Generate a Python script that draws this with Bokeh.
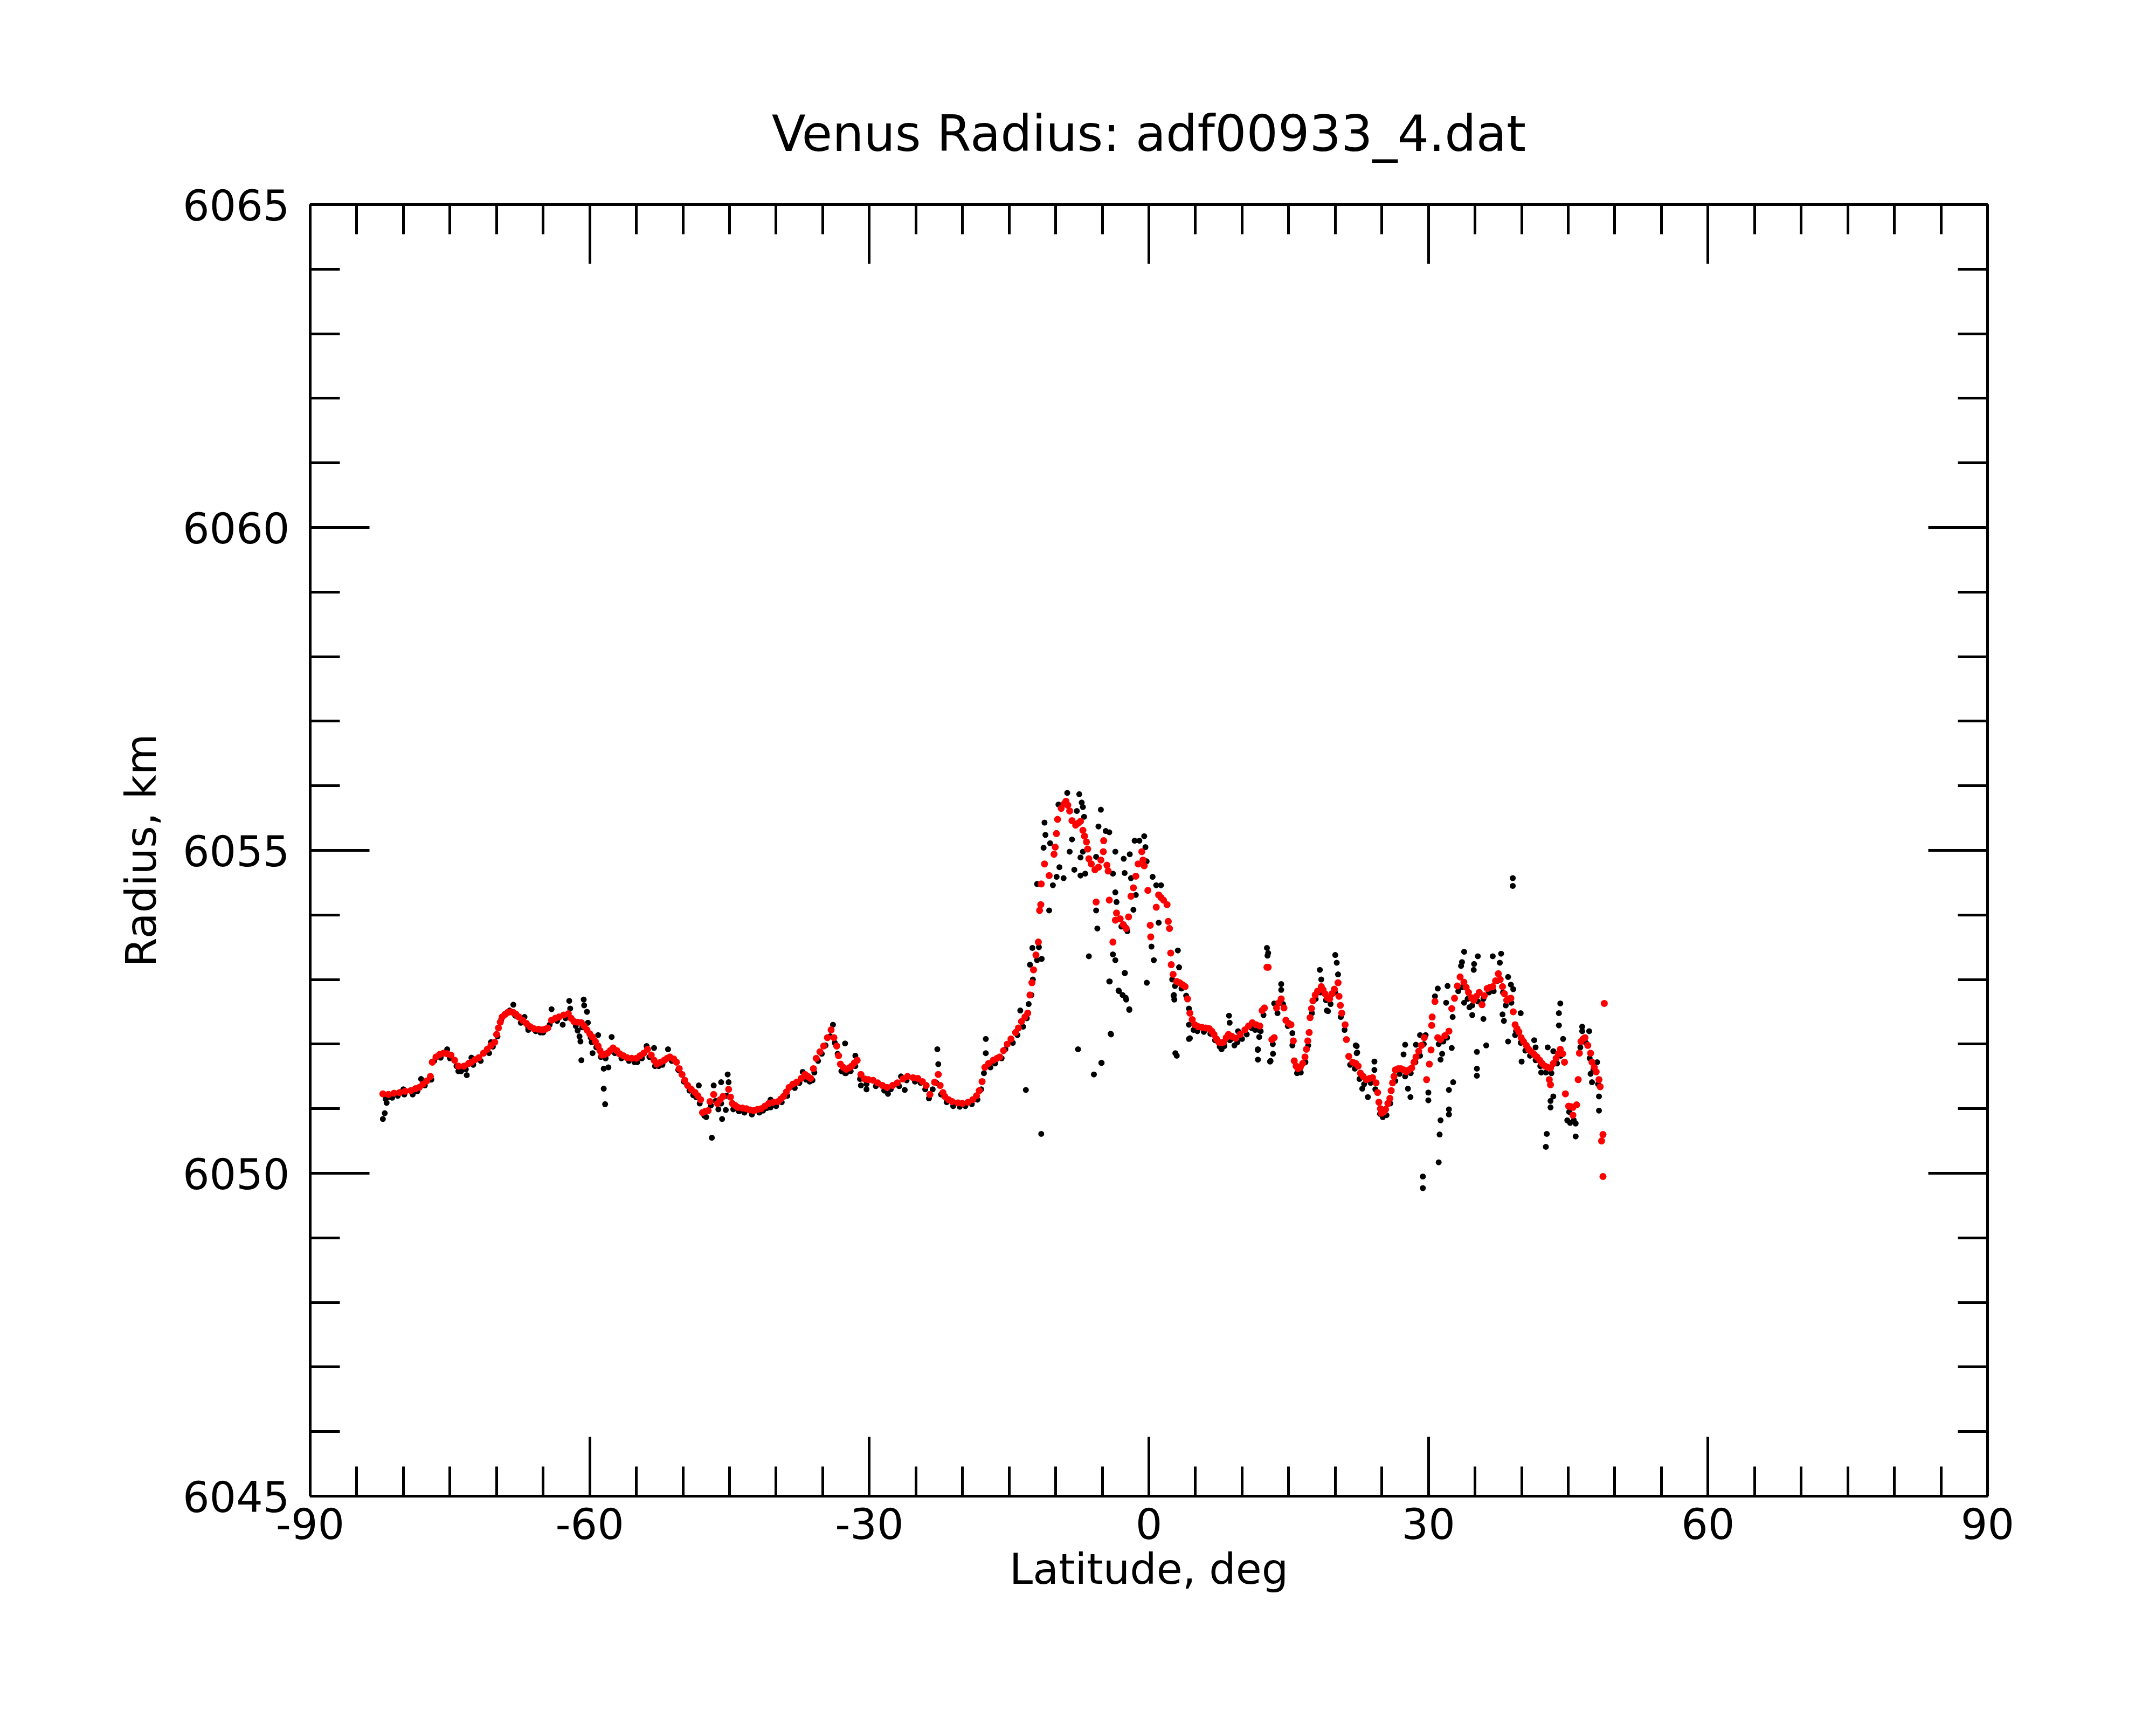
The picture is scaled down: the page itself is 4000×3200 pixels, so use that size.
from bokeh.plotting import figure
from bokeh.models import Range1d, LinearAxis, FixedTicker, CustomJSTickFormatter
from bokeh.embed import file_html
from bokeh.resources import INLINE

TITLE = "Venus Radius: adf00933_4.dat"
X_LABEL = "Latitude, deg"
Y_LABEL = "Radius, km"
x_major = [-90, -60, -30, 0, 30, 60, 90]
x_minor = list(range(-90, 91, 5))
y_major = [6045, 6050, 6055, 6060, 6065]
y_minor = list(range(6045, 6066))

# red series (latitude, radius km)
red_south = [
    (-82.2, 6051.23), (-81.6, 6051.22), (-81.0, 6051.24), (-80.4, 6051.25), (-79.8, 6051.27),
    (-79.2, 6051.28), (-78.7, 6051.31), (-78.3, 6051.33), (-77.9, 6051.38), (-77.5, 6051.43),
    (-77.1, 6051.50), (-76.9, 6051.72), (-76.5, 6051.80), (-76.1, 6051.84), (-75.7, 6051.86),
    (-75.3, 6051.85), (-74.9, 6051.83), (-74.5, 6051.75), (-74.1, 6051.66), (-73.5, 6051.66),
    (-73.0, 6051.70), (-72.7, 6051.72), (-72.3, 6051.76), (-71.9, 6051.79), (-71.4, 6051.86),
    (-71.0, 6051.92), (-70.6, 6051.98), (-70.2, 6052.03), (-70.0, 6052.15), (-69.8, 6052.25),
    (-69.6, 6052.34), (-69.4, 6052.42), (-69.1, 6052.46), (-68.8, 6052.49), (-68.5, 6052.50),
    (-68.2, 6052.49), (-67.9, 6052.46), (-67.6, 6052.42), (-67.2, 6052.37), (-66.8, 6052.32),
    (-66.4, 6052.27), (-66.0, 6052.24), (-65.5, 6052.23), (-65.1, 6052.22), (-64.8, 6052.23),
    (-64.5, 6052.25), (-64.1, 6052.37), (-63.7, 6052.40), (-63.3, 6052.42), (-62.8, 6052.45),
    (-62.3, 6052.47), (-62.0, 6052.40), (-61.7, 6052.35), (-61.3, 6052.34), (-60.9, 6052.33),
    (-60.6, 6052.28), (-60.3, 6052.22), (-60.0, 6052.16), (-59.7, 6052.11), (-59.4, 6052.04),
    (-59.1, 6051.97), (-58.9, 6051.90), (-58.7, 6051.83), (-58.4, 6051.84), (-58.1, 6051.86),
    (-57.8, 6051.90), (-57.5, 6051.94), (-57.1, 6051.90), (-56.8, 6051.85), (-56.4, 6051.82),
    (-56.0, 6051.79), (-55.5, 6051.78), (-55.0, 6051.78), (-54.6, 6051.82), (-54.2, 6051.86),
    (-53.8, 6051.92), (-53.4, 6051.83), (-53.1, 6051.75), (-52.8, 6051.69), (-52.4, 6051.72),
    (-52.0, 6051.75), (-51.7, 6051.78), (-51.4, 6051.80), (-51.0, 6051.77), (-50.7, 6051.72),
    (-50.4, 6051.62), (-50.1, 6051.53), (-49.8, 6051.44), (-49.5, 6051.36), (-49.1, 6051.30),
    (-48.7, 6051.25), (-48.4, 6051.20), (-48.1, 6051.14), (-47.9, 6050.94), (-47.6, 6050.96),
    (-47.3, 6050.97), (-47.1, 6051.11), (-46.7, 6051.22), (-46.3, 6051.08), (-46.0, 6051.14),
    (-45.7, 6051.19), (-45.1, 6051.30), (-44.9, 6051.18), (-44.7, 6051.08), (-44.4, 6051.05),
    (-44.1, 6051.02), (-43.6, 6051.01), (-43.2, 6051.00), (-42.8, 6050.98), (-42.4, 6050.97),
    (-42.0, 6050.99), (-41.6, 6051.00), (-41.2, 6051.04), (-40.8, 6051.08), (-40.3, 6051.10),
    (-39.8, 6051.11), (-39.5, 6051.15), (-39.2, 6051.19), (-38.9, 6051.26), (-38.6, 6051.33),
    (-38.2, 6051.38), (-37.8, 6051.41), (-37.3, 6051.47), (-36.9, 6051.53), (-36.6, 6051.50),
    (-36.3, 6051.47), (-36.0, 6051.62), (-35.7, 6051.78), (-35.3, 6051.88), (-34.9, 6051.97),
    (-34.5, 6052.10), (-34.1, 6052.22), (-33.8, 6052.10), (-33.5, 6051.97), (-33.3, 6051.82),
    (-33.1, 6051.69), (-32.8, 6051.64), (-32.5, 6051.61), (-32.2, 6051.63), (-31.9, 6051.66),
    (-31.6, 6051.71), (-31.3, 6051.75), (-30.9, 6051.53), (-30.5, 6051.46), (-30.1, 6051.45),
    (-29.6, 6051.44), (-29.1, 6051.40), (-28.6, 6051.36), (-28.1, 6051.33), (-27.5, 6051.36),
    (-27.0, 6051.40), (-26.4, 6051.46), (-25.9, 6051.50), (-25.3, 6051.48), (-24.8, 6051.47),
    (-24.3, 6051.42), (-23.9, 6051.36), (-23.5, 6051.22), (-23.0, 6051.41), (-22.6, 6051.53),
    (-22.4, 6051.36), (-22.1, 6051.25), (-21.9, 6051.19), (-21.5, 6051.14), (-21.1, 6051.11),
    (-20.5, 6051.09), (-20.0, 6051.08), (-19.4, 6051.10), (-18.9, 6051.14), (-18.5, 6051.20),
    (-18.2, 6051.28), (-17.9, 6051.42), (-17.6, 6051.64), (-17.2, 6051.70), (-16.7, 6051.75),
    (-16.3, 6051.78), (-16.0, 6051.80), (-15.6, 6051.90), (-15.2, 6052.00), (-14.8, 6052.08),
    (-14.3, 6052.18), (-14.0, 6052.25), (-13.67, 6052.35), (-13.3, 6052.42), (-13.0, 6052.48),
]
red_peak = [
    (-12.76, 6052.76), (-12.55, 6052.95), (-12.38, 6053.15), (-12.12, 6053.38), (-11.86, 6053.58),
    (-11.73, 6054.07), (-11.6, 6054.16), (-11.55, 6054.48), (-11.2, 6054.79), (-10.7, 6054.61),
    (-10.18, 6054.94), (-10.05, 6055.05), (-9.92, 6055.26), (-9.8, 6055.48), (-9.41, 6055.65),
    (-9.1, 6055.72), (-8.9, 6055.76), (-8.7, 6055.70), (-8.5, 6055.61), (-8.25, 6055.46),
    (-7.86, 6055.39), (-7.6, 6055.42), (-7.34, 6055.45), (-7.08, 6055.31), (-6.9, 6055.22),
    (-6.7, 6055.13), (-6.57, 6055.02), (-6.44, 6054.87), (-6.18, 6054.79), (-5.79, 6054.70),
    (-5.66, 6054.20), (-5.41, 6054.74), (-5.15, 6054.85), (-4.89, 6054.98), (-4.85, 6055.15),
    (-4.5, 6054.77), (-4.37, 6054.68), (-4.25, 6054.23), (-3.86, 6053.58), (-3.6, 6053.92),
    (-3.47, 6054.03), (-3.08, 6053.94), (-2.75, 6053.85), (-2.44, 6053.79), (-2.18, 6053.97),
    (-1.92, 6054.29), (-1.66, 6054.42), (-1.4, 6054.60), (-1.15, 6054.79), (-0.76, 6054.98),
    (-0.63, 6054.85), (-0.5, 6054.76), (-0.11, 6054.38), (0.15, 6053.84), (0.2, 6053.66),
    (0.79, 6054.12), (1.05, 6054.31), (1.3, 6054.27), (1.57, 6054.23), (1.95, 6054.16),
    (2.08, 6053.90), (2.21, 6053.79), (2.34, 6053.41), (2.4, 6053.23), (2.6, 6053.08),
    (2.99, 6052.97), (3.3, 6052.95), (3.6, 6052.92), (3.89, 6052.89), (4.15, 6052.70),
    (4.4, 6052.48), (4.65, 6052.38), (4.92, 6052.30), (5.3, 6052.27), (5.7, 6052.26),
    (6.1, 6052.25), (6.47, 6052.24), (6.75, 6052.20), (6.99, 6052.15), (7.25, 6052.08),
    (7.5, 6052.03), (7.76, 6052.02), (8.02, 6052.03), (8.3, 6052.10), (8.54, 6052.15),
    (8.9, 6052.12), (9.31, 6052.09), (9.8, 6052.15), (10.3, 6052.22), (10.7, 6052.28),
    (11.1, 6052.33), (11.5, 6052.30), (11.9, 6052.28), (12.15, 6052.52), (12.4, 6052.56),
]
red_north = [
    (12.67, 6053.19), (12.8, 6053.19), (13.2, 6052.07), (13.45, 6052.10), (13.7, 6052.56),
    (13.95, 6052.64), (14.2, 6052.70), (14.5, 6052.56), (14.7, 6052.37), (15.0, 6052.32),
    (15.25, 6052.30), (15.5, 6052.05), (15.6, 6051.74), (15.8, 6051.66), (16.0, 6051.62),
    (16.25, 6051.64), (16.5, 6051.70), (16.75, 6051.80), (16.9, 6051.92), (17.05, 6052.05),
    (17.2, 6052.18), (17.3, 6052.41), (17.45, 6052.55), (17.6, 6052.67), (17.85, 6052.76),
    (18.1, 6052.82), (18.5, 6052.89), (18.7, 6052.84), (18.9, 6052.78), (19.15, 6052.72),
    (19.4, 6052.70), (19.65, 6052.78), (19.9, 6052.85), (20.3, 6052.95), (20.4, 6052.74),
    (20.55, 6052.60), (20.7, 6052.48), (21.06, 6052.30), (21.2, 6052.07), (21.45, 6051.81),
    (21.87, 6051.72), (22.2, 6051.70), (22.46, 6051.66), (22.7, 6051.55), (23.0, 6051.50),
    (23.35, 6051.45), (23.7, 6051.47), (24.0, 6051.48), (24.38, 6051.40), (24.55, 6051.25),
    (24.68, 6051.10), (24.85, 6051.00), (24.97, 6050.93), (25.2, 6050.95), (25.4, 6050.99),
    (25.65, 6051.08), (25.86, 6051.16), (26.0, 6051.28), (26.15, 6051.40), (26.3, 6051.50),
    (26.45, 6051.60), (26.75, 6051.62), (27.04, 6051.62), (27.35, 6051.60), (27.63, 6051.57),
    (27.9, 6051.60), (28.2, 6051.63), (28.45, 6051.72), (28.66, 6051.80), (28.96, 6051.89),
    (29.25, 6051.98), (29.55, 6052.10), (29.8, 6051.45), (30.1, 6051.69), (30.28, 6051.91),
    (30.35, 6052.29), (30.4, 6052.42), (30.7, 6052.66), (31.0, 6052.10), (31.3, 6052.07),
    (31.76, 6052.13), (32.2, 6052.20), (32.5, 6052.55), (32.8, 6052.71), (33.1, 6052.90),
    (33.4, 6053.04), (33.8, 6052.96), (34.05, 6052.88), (34.3, 6052.80), (34.6, 6052.72),
    (34.86, 6052.68), (35.15, 6052.74), (35.45, 6052.80), (35.75, 6052.61), (36.0, 6052.75),
    (36.3, 6052.86), (36.6, 6052.88), (36.9, 6052.89), (37.2, 6052.98), (37.5, 6053.09),
    (37.7, 6053.00), (37.95, 6052.89), (38.15, 6052.78), (38.4, 6052.68), (38.6, 6052.70),
    (38.85, 6052.71), (39.1, 6052.50), (39.3, 6052.30), (39.5, 6052.24), (39.7, 6052.19),
    (39.95, 6052.10), (40.2, 6052.04), (40.5, 6051.98), (40.76, 6051.92), (41.05, 6051.88),
    (41.35, 6051.84), (41.65, 6051.80), (41.94, 6051.75), (42.2, 6051.70), (42.5, 6051.66),
    (42.8, 6051.64), (43.1, 6051.63), (43.4, 6051.70), (43.7, 6051.78), (43.95, 6051.85),
    (44.15, 6051.92), (44.4, 6051.85), (44.6, 6051.72), (44.7, 6051.23), (45.04, 6051.04),
    (45.3, 6051.03), (45.5, 6051.02), (45.9, 6051.06), (45.5, 6050.90), (46.07, 6051.45),
    (46.2, 6051.86), (46.37, 6052.04), (46.6, 6052.08), (46.8, 6052.10), (47.1, 6051.98),
    (47.4, 6051.86), (47.55, 6051.72), (47.8, 6051.64), (48.0, 6051.57), (48.3, 6051.45),
    (48.43, 6051.34), (48.87, 6052.63), (48.73, 6050.60), (48.58, 6050.50), (48.73, 6049.95),
    (42.97, 6051.45), (43.1, 6051.37),
]

# black series: points along the trace
black_core = [
    (-81.9, 6051.15), (-81.2, 6051.17), (-80.6, 6051.20), (-79.9, 6051.22), (-79.0, 6051.22),
    (-78.5, 6051.27), (-77.7, 6051.36), (-77.0, 6051.45), (-76.7, 6051.74), (-76.0, 6051.79),
    (-75.0, 6051.78), (-74.3, 6051.66), (-73.8, 6051.58), (-73.3, 6051.61), (-72.5, 6051.68),
    (-71.7, 6051.74), (-70.8, 6051.86), (-70.4, 6051.96), (-69.9, 6052.12), (-69.5, 6052.38),
    (-68.6, 6052.52), (-68.0, 6052.44), (-67.4, 6052.33), (-66.6, 6052.26), (-65.8, 6052.20),
    (-65.3, 6052.18), (-64.3, 6052.30), (-63.5, 6052.36), (-62.6, 6052.40), (-61.5, 6052.28),
    (-60.8, 6052.26), (-59.9, 6052.10), (-59.3, 6051.95), (-58.8, 6051.80), (-58.3, 6051.78),
    (-57.3, 6051.86), (-56.6, 6051.78), (-55.8, 6051.74), (-55.2, 6051.72), (-54.4, 6051.78),
    (-53.6, 6051.80), (-53.0, 6051.66), (-52.2, 6051.68), (-51.2, 6051.74), (-50.5, 6051.60),
    (-49.9, 6051.42), (-49.3, 6051.28), (-48.6, 6051.18), (-48.2, 6051.08), (-47.7, 6050.89),
    (-47.0, 6051.05), (-46.5, 6051.12), (-45.9, 6051.08), (-45.3, 6051.20), (-44.6, 6050.99),
    (-44.0, 6050.96), (-43.4, 6050.94), (-42.6, 6050.91), (-41.8, 6050.94), (-41.4, 6050.97),
    (-40.6, 6051.02), (-40.0, 6051.04), (-39.4, 6051.10), (-38.8, 6051.20), (-38.0, 6051.32),
    (-37.5, 6051.40), (-36.8, 6051.45), (-36.4, 6051.42), (-35.9, 6051.56), (-35.5, 6051.74),
    (-35.1, 6051.85), (-34.7, 6051.98), (-34.2, 6052.12), (-33.7, 6052.02), (-33.4, 6051.85),
    (-33.0, 6051.58), (-32.6, 6051.55), (-32.0, 6051.58), (-31.5, 6051.66), (-31.0, 6051.46),
    (-30.3, 6051.38), (-29.3, 6051.35), (-28.4, 6051.28), (-27.7, 6051.30), (-26.8, 6051.35),
    (-26.0, 6051.44), (-25.1, 6051.42), (-24.5, 6051.40), (-24.0, 6051.30), (-23.6, 6051.16),
    (-23.2, 6051.30), (-22.8, 6051.40), (-22.3, 6051.22), (-21.7, 6051.10), (-21.0, 6051.04),
    (-20.3, 6051.03), (-19.7, 6051.04), (-19.0, 6051.07), (-18.4, 6051.14), (-18.0, 6051.30),
    (-17.7, 6051.55), (-17.0, 6051.64), (-16.5, 6051.70), (-15.8, 6051.78), (-15.4, 6051.92),
    (-14.6, 6052.02), (-14.1, 6052.14), (-13.5, 6052.27), (-13.1, 6052.40), (-12.9, 6052.62),
    (-12.45, 6053.00), (-12.0, 6053.30), (-11.8, 6053.50), (2.5, 6053.00), (2.8, 6052.90),
    (3.5, 6052.86), (4.0, 6052.75), (4.3, 6052.55), (4.8, 6052.22), (5.2, 6052.20),
    (5.9, 6052.19), (6.6, 6052.16), (7.1, 6052.06), (7.6, 6051.96), (8.1, 6051.97),
    (8.7, 6052.06), (9.5, 6052.03), (10.0, 6052.08), (10.5, 6052.15), (11.0, 6052.25),
    (11.4, 6052.22), (12.0, 6052.20), (12.3, 6052.45), (13.3, 6052.00), (13.8, 6052.48),
    (14.4, 6052.62), (14.9, 6052.28), (15.4, 6051.98), (15.9, 6051.55), (16.3, 6051.56),
    (16.8, 6051.72), (17.1, 6051.98), (17.5, 6052.48), (17.9, 6052.70), (18.4, 6052.80),
    (19.0, 6052.68), (19.5, 6052.62), (20.0, 6052.80), (20.6, 6052.42), (21.0, 6052.22),
    (21.6, 6051.68), (22.1, 6051.62), (22.6, 6051.46), (23.1, 6051.38), (23.8, 6051.40),
    (24.3, 6051.30), (24.8, 6050.92), (25.1, 6050.87), (25.5, 6050.90), (25.9, 6051.08),
    (26.3, 6051.42), (26.9, 6051.54), (27.5, 6051.50), (28.1, 6051.55), (28.6, 6051.72),
    (29.1, 6051.82), (29.5, 6052.00), (31.1, 6052.00), (31.6, 6052.04), (32.0, 6052.10),
    (32.6, 6052.42), (33.2, 6052.82), (33.6, 6052.88), (34.2, 6052.70), (34.7, 6052.60),
    (35.3, 6052.66), (35.9, 6052.70), (36.5, 6052.80), (37.0, 6052.82), (37.4, 6052.98),
    (38.0, 6052.80), (38.3, 6052.60), (38.9, 6052.64), (39.4, 6052.20), (39.9, 6052.02),
    (40.4, 6051.90), (40.9, 6051.82), (41.5, 6051.75), (42.0, 6051.66), (42.6, 6051.56),
    (43.2, 6051.55), (43.8, 6051.70), (44.2, 6051.82), (45.1, 6050.95), (45.6, 6050.82),
    (46.3, 6051.95), (46.9, 6052.02), (47.3, 6051.78), (47.7, 6051.60), (48.2, 6051.38),
]
# black series: scattered points
black_scatter_south = [
    (-82.2, 6050.84), (-82.0, 6050.93), (-81.8, 6051.09), (-81.6, 6051.18), (-80.0, 6051.30),
    (-78.1, 6051.46), (-75.3, 6051.92), (-74.1, 6051.58), (-73.2, 6051.52), (-72.7, 6051.79),
    (-70.6, 6052.03), (-68.2, 6052.61), (-67.0, 6052.42), (-66.6, 6052.22), (-65.0, 6052.18),
    (-64.1, 6052.54), (-62.9, 6052.30), (-62.2, 6052.67), (-62.1, 6052.55), (-60.65, 6052.69),
    (-60.6, 6052.60), (-60.3, 6052.50), (-60.2, 6052.33), (-61.3, 6052.21), (-61.1, 6052.12),
    (-61.0, 6052.04), (-60.9, 6051.75), (-59.8, 6052.03), (-59.7, 6051.86), (-59.1, 6052.14),
    (-57.65, 6052.11), (-58.5, 6051.62), (-58.0, 6051.64), (-58.5, 6051.31), (-58.35, 6051.07),
    (-54.9, 6051.72), (-53.9, 6051.97), (-53.1, 6051.94), (-51.6, 6051.92), (-52.6, 6051.66),
    (-48.9, 6051.21), (-48.3, 6051.36), (-47.5, 6050.87), (-46.9, 6050.55), (-46.7, 6051.36),
    (-45.9, 6051.41), (-45.2, 6051.53), (-45.1, 6051.41), (-46.2, 6050.99), (-45.8, 6050.84),
    (-45.4, 6050.98), (-43.85, 6050.97), (-42.6, 6050.94), (-41.0, 6051.01), (-40.6, 6051.14),
    (-37.15, 6051.57), (-36.1, 6051.44), (-33.9, 6052.30), (-32.6, 6052.01), (-32.5, 6051.55),
    (-31.5, 6051.82), (-30.9, 6051.36), (-30.3, 6051.30), (-28.0, 6051.23), (-26.6, 6051.50),
    (-26.2, 6051.29), (-22.7, 6051.92), (-22.6, 6051.69), (-17.5, 6052.08), (-17.5, 6051.86),
    (-13.2, 6051.29), (-11.55, 6050.61), (-7.6, 6051.92), (-5.9, 6051.53), (-5.1, 6051.71),
    (-4.1, 6052.16), (-2.1, 6052.53), (-2.5, 6052.72), (-3.25, 6052.83), (-4.2, 6052.97),
    (-2.6, 6053.10), (-0.22, 6052.95), (2.65, 6052.75), (2.84, 6051.86), (4.3, 6052.30),
    (4.3, 6052.08), (7.8, 6051.92), (8.6, 6052.44),
]
black_scatter_peak = [
    (-11.5, 6053.32), (-12.6, 6052.76), (-13.8, 6052.52), (-12.0, 6054.48), (-10.7, 6054.07),
    (-11.3, 6055.04), (-11.2, 6055.43), (-11.1, 6055.24), (-10.6, 6055.11), (-10.3, 6054.46),
    (-9.6, 6054.74), (-9.9, 6054.59), (-9.7, 6055.71), (-8.76, 6055.89), (-7.47, 6055.87),
    (-7.21, 6055.74), (-7.08, 6055.67), (-7.73, 6055.61), (-6.95, 6055.52), (-8.25, 6055.17),
    (-8.5, 6054.98), (-9.15, 6054.57), (-8.0, 6054.70), (-7.34, 6054.61), (-6.83, 6054.64),
    (-7.34, 6054.89), (-7.08, 6054.98), (-5.66, 6054.90), (-5.41, 6055.37), (-5.15, 6055.63),
    (-4.63, 6055.30), (-4.25, 6055.28), (-3.6, 6054.98), (-3.86, 6054.64), (-2.7, 6054.87),
    (-2.05, 6054.94), (-2.6, 6054.65), (-1.92, 6054.57), (-1.53, 6055.15), (-1.02, 6055.15),
    (-0.5, 6055.22), (-0.37, 6055.05), (-0.24, 6054.83), (0.4, 6054.59), (0.79, 6054.46),
    (1.3, 6054.46), (1.05, 6053.88), (0.28, 6053.51), (0.53, 6053.30), (-1.4, 6054.31),
    (-1.66, 6054.08), (-2.57, 6053.82), (-2.95, 6053.82), (-2.31, 6053.75), (-3.6, 6054.35),
    (-3.47, 6054.20), (-5.66, 6054.07), (-5.53, 6053.79), (-3.86, 6053.39), (-3.6, 6053.30),
    (-6.44, 6053.36), (-2.57, 6053.10), (-4.25, 6052.97), (-3.21, 6052.82), (-2.82, 6052.76),
    (-2.44, 6052.69), (-2.1, 6052.54), (-4.06, 6052.15), (-5.07, 6051.71), (3.11, 6053.45),
    (3.24, 6053.19), (2.68, 6052.76), (2.73, 6052.69), (4.4, 6052.09), (2.99, 6051.82),
    (8.67, 6052.33), (9.57, 6052.20), (9.18, 6051.98), (7.76, 6051.94), (12.8, 6053.41),
    (12.67, 6053.49), (11.8, 6052.22), (11.7, 6051.92), (11.7, 6051.76), (13.06, 6051.74),
    (13.45, 6052.63), (14.2, 6052.93), (14.2, 6052.84), (15.0, 6052.30), (15.4, 6052.17),
    (18.35, 6053.15), (18.5, 6053.00), (20.0, 6053.38), (20.16, 6053.26), (20.3, 6053.08),
    (19.1, 6052.52), (22.2, 6051.98), (22.35, 6051.87), (22.9, 6051.31), (23.5, 6051.18),
    (-12.76, 6053.23), (-12.5, 6053.49),
]
black_scatter_north = [
    (12.73, 6053.37), (11.84, 6052.11), (11.69, 6051.91), (13.32, 6051.85), (13.0, 6051.73),
    (19.22, 6052.51), (22.3, 6051.97), (22.3, 6051.86), (24.2, 6051.73), (24.2, 6051.60),
    (26.45, 6051.43), (27.5, 6051.99), (27.33, 6051.84), (27.8, 6051.31), (28.07, 6051.18),
    (28.66, 6051.99), (29.1, 6052.14), (29.7, 6052.14), (29.99, 6051.25), (29.99, 6051.13),
    (31.0, 6052.86), (30.7, 6052.74), (31.47, 6051.85), (31.3, 6051.76), (31.3, 6050.82),
    (31.2, 6050.60), (31.1, 6050.17), (29.4, 6049.95), (29.4, 6049.77), (32.5, 6051.94),
    (32.2, 6050.99), (32.2, 6050.91), (32.65, 6051.41), (32.2, 6051.29), (33.83, 6053.43),
    (33.6, 6053.27), (33.5, 6053.21), (35.3, 6053.36), (34.9, 6053.24), (34.86, 6053.15),
    (36.9, 6053.36), (37.8, 6053.40), (37.66, 6053.26), (32.05, 6052.90), (31.9, 6052.64),
    (33.83, 6052.64), (34.4, 6052.57), (34.7, 6052.45), (35.9, 6052.39), (36.2, 6051.98),
    (35.2, 6051.88), (35.2, 6051.62), (35.2, 6051.51), (38.55, 6053.04), (38.85, 6052.92),
    (39.1, 6052.85), (37.95, 6052.46), (38.1, 6052.36), (39.9, 6052.48), (38.55, 6052.04),
    (39.3, 6052.14), (40.0, 6051.73), (41.35, 6052.06), (41.5, 6051.95), (42.1, 6051.56),
    (42.8, 6051.95), (43.4, 6051.89), (44.15, 6052.63), (44.0, 6052.48), (44.0, 6052.29),
    (44.45, 6052.08), (43.1, 6051.12), (43.4, 6051.19), (43.1, 6051.02), (42.7, 6050.61),
    (42.6, 6050.41), (44.9, 6050.82), (45.2, 6050.78), (45.8, 6050.77), (45.8, 6050.57),
    (46.5, 6052.27), (46.5, 6052.20), (47.25, 6052.20), (48.1, 6051.72), (47.4, 6051.54),
    (47.55, 6051.41), (48.3, 6051.19), (48.3, 6050.97), (39.05, 6054.57), (39.05, 6054.45),
]

red_pts = red_south + red_peak + red_north
blk_pts = black_core + black_scatter_south + black_scatter_peak + black_scatter_north

FONT = "DejaVu Sans"

p = figure(width=3992, height=3192,
           x_range=Range1d(-90, 90), y_range=Range1d(6045, 6065),
           x_axis_location=None, y_axis_location=None,
           output_backend="svg", toolbar_location=None,
           min_border_left=575, min_border_right=305,
           min_border_top=379, min_border_bottom=417)
p.background_fill_color = "white"
p.border_fill_color = "white"
p.outline_line_color = None
p.xgrid.visible = False
p.ygrid.visible = False

p.title.text = TITLE
p.title.align = "center"
p.title.text_font = FONT
p.title.text_font_size = "92px"
p.title.text_font_style = "normal"
p.title.text_color = "black"
p.title.standoff = 155

bottom = LinearAxis(axis_label=X_LABEL)
left = LinearAxis(axis_label=Y_LABEL)
top = LinearAxis()
right = LinearAxis()
p.add_layout(bottom, "below")
p.add_layout(left, "left")
p.add_layout(top, "above")
p.add_layout(right, "right")

plain = CustomJSTickFormatter(code="return tick.toFixed(0)")
blank = CustomJSTickFormatter(code="return ''")
for ax, major, minor in [(bottom, x_major, x_minor), (top, x_major, x_minor),
                         (left, y_major, y_minor), (right, y_major, y_minor)]:
    ax.ticker = FixedTicker(ticks=major, minor_ticks=minor)
    ax.axis_line_width = 5
    ax.axis_line_color = "black"
    ax.major_tick_line_width = 5
    ax.minor_tick_line_width = 5
    ax.major_tick_line_color = "black"
    ax.minor_tick_line_color = "black"
    ax.major_tick_in = 110
    ax.major_tick_out = 0
    ax.minor_tick_in = 55
    ax.minor_tick_out = 0
    ax.major_label_text_font = FONT
    ax.major_label_text_font_size = "78px"
    ax.major_label_text_color = "black"
    ax.axis_label_text_font = FONT
    ax.axis_label_text_font_size = "78px"
    ax.axis_label_text_font_style = "normal"
    ax.axis_label_text_color = "black"

bottom.formatter = plain
left.formatter = plain
top.formatter = blank
right.formatter = blank
top.major_label_standoff = 0
right.major_label_standoff = 0

bottom.major_label_standoff = 21
bottom.axis_label_standoff = 8
left.major_label_standoff = 38
left.axis_label_standoff = 29

p.scatter([q[0] for q in blk_pts], [q[1] for q in blk_pts], size=11,
          marker="circle", fill_color="black", line_color=None)
p.scatter([q[0] for q in red_pts], [q[1] for q in red_pts], size=13,
          marker="circle", fill_color="red", line_color=None)

open("out.html", "w").write(file_html(p, INLINE))
